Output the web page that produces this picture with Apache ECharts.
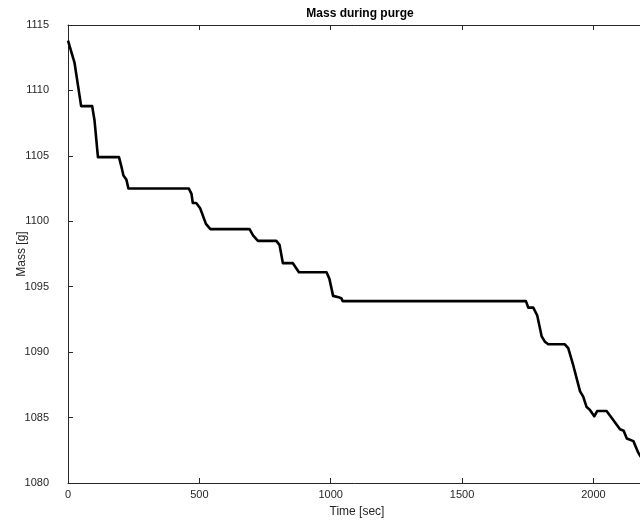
<!DOCTYPE html>
<html>
<head>
<meta charset="utf-8">
<script src="https://cdn.jsdelivr.net/npm/echarts@6/dist/echarts.min.js"></script>
<style>html,body{margin:0;padding:0;background:#fff}#c{width:640px;height:527px}</style>
</head>
<body>
<div id="c"></div>
<script>
var timeSec = [0, 25, 50, 92, 101, 114, 194, 203, 211, 222, 230, 460, 470, 475, 488, 503, 525, 542, 691, 705, 723, 793, 805, 818, 856, 879, 984, 995, 1009, 1030, 1041, 1045, 1743, 1752, 1771, 1786, 1803, 1815, 1828, 1891, 1904, 1923, 1949, 1961, 1974, 1986, 2003, 2014, 2050, 2076, 2101, 2115, 2127, 2152, 2171, 2180];
var massG  = [1113.8, 1112.1, 1108.8, 1108.8, 1107.7, 1104.9, 1104.9, 1104.2, 1103.5, 1103.2, 1102.5, 1102.5, 1102.1, 1101.4, 1101.4, 1101.0, 1099.8, 1099.4, 1099.4, 1098.9, 1098.5, 1098.5, 1098.2, 1096.8, 1096.8, 1096.1, 1096.1, 1095.6, 1094.3, 1094.2, 1094.1, 1093.9, 1093.9, 1093.4, 1093.4, 1092.8, 1091.2, 1090.8, 1090.6, 1090.6, 1090.3, 1089.0, 1087.0, 1086.6, 1085.8, 1085.6, 1085.1, 1085.5, 1085.5, 1084.8, 1084.1, 1084.0, 1083.4, 1083.2, 1082.3, 1082.0];
var xTicks = [0, 500, 1000, 1500, 2000];
var yTicks = [1080, 1085, 1090, 1095, 1100, 1105, 1110, 1115];

var pts = timeSec.map(function (t, i) { return [t, massG[i]]; });
var axisColor = '#262626';
var font = '"Liberation Sans", Arial, sans-serif';
function plain(v) { return String(v); }

var chart = echarts.init(document.getElementById('c'), null, {renderer: 'canvas'});
chart.setOption({
  animation: false,
  backgroundColor: '#fff',
  title: {
    text: 'Mass during purge',
    left: 355, top: 3, textAlign: 'center',
    textStyle: {fontFamily: font, fontSize: 12, fontWeight: 'bold', color: '#000'}
  },
  grid: {left: 68, top: 25, height: 458, width: 578, containLabel: false, outerBoundsMode: 'none'},
  xAxis: [{
    type: 'value', min: xTicks[0], max: 2200, interval: xTicks[1] - xTicks[0], position: 'bottom',
    name: 'Time [sec]', nameLocation: 'middle', nameGap: 23, nameMoveOverlap: false,
    nameTextStyle: {fontFamily: font, fontSize: 12, color: axisColor},
    axisLine: {show: true, onZero: false, lineStyle: {color: axisColor, width: 1}},
    axisTick: {show: true, inside: true, length: 5, lineStyle: {color: axisColor}},
    axisLabel: {fontFamily: font, fontSize: 11, color: axisColor, margin: 6, showMaxLabel: false, formatter: plain},
    splitLine: {show: false}
  }, {
    type: 'value', min: xTicks[0], max: 2200, interval: xTicks[1] - xTicks[0], position: 'top',
    axisLine: {show: true, onZero: false, lineStyle: {color: axisColor, width: 1}},
    axisTick: {show: true, inside: true, length: 5, lineStyle: {color: axisColor}},
    axisLabel: {show: false},
    splitLine: {show: false}
  }],
  yAxis: [{
    type: 'value', min: yTicks[0], max: yTicks[yTicks.length - 1], interval: yTicks[1] - yTicks[0], position: 'left',
    name: 'Mass [g]', nameLocation: 'middle', nameGap: 40, nameMoveOverlap: false,
    nameTextStyle: {fontFamily: font, fontSize: 12, color: axisColor},
    axisLine: {show: true, onZero: false, lineStyle: {color: axisColor, width: 1}},
    axisTick: {show: true, inside: true, length: 5, lineStyle: {color: axisColor}},
    axisLabel: {fontFamily: font, fontSize: 11, color: axisColor, margin: 19, formatter: plain},
    splitLine: {show: false}
  }, {
    type: 'value', min: yTicks[0], max: yTicks[yTicks.length - 1], interval: yTicks[1] - yTicks[0], position: 'right',
    axisLine: {show: true, onZero: false, lineStyle: {color: axisColor, width: 1}},
    axisTick: {show: false}, axisLabel: {show: false}, splitLine: {show: false}
  }],
  series: [{
    type: 'line', data: pts, showSymbol: false, symbol: 'none',
    xAxisIndex: 0, yAxisIndex: 0,
    lineStyle: {color: '#000', width: 2.6, join: 'round'}
  }]
});
</script>
</body>
</html>
